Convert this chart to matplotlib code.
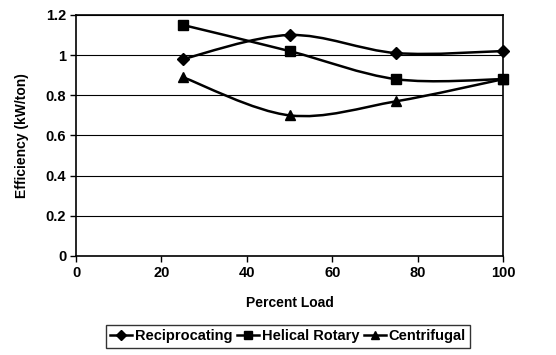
import matplotlib
matplotlib.use("Agg")
import matplotlib.pyplot as plt
from matplotlib.path import Path
from matplotlib.patches import PathPatch
from matplotlib.lines import Line2D
import numpy as np

plt.rcParams['font.family'] = ['Liberation Sans', 'DejaVu Sans']

load = [25, 50, 75, 100]
reciprocating = [0.98, 1.10, 1.01, 1.02]
helical_rotary = [1.15, 1.02, 0.88, 0.88]
centrifugal = [0.89, 0.70, 0.77, 0.88]

series = [
    ("Reciprocating", reciprocating, "D", 6),
    ("Helical Rotary", helical_rotary, "s", 7),
    ("Centrifugal", centrifugal, "^", 7),
]

fig = plt.figure(figsize=(5.56, 3.55), dpi=100)
ax = fig.add_axes([0.1367, 0.279, 0.768, 0.679])
ax.set_xlim(0, 100)
ax.set_ylim(0, 1.2)
ax.set_xticks(range(0, 101, 20))
ax.set_yticks([0, 0.2, 0.4, 0.6, 0.8, 1.0, 1.2])
ax.set_yticklabels(["0", "0.2", "0.4", "0.6", "0.8", "1", "1.2"])
for lab in ax.get_xticklabels() + ax.get_yticklabels():
    lab.set_fontweight("bold")
    lab.set_fontsize(10.5)
ax.tick_params(direction="out", length=4, width=1, color="black", pad=3)
ax.grid(axis="y", color="black", linewidth=0.8)
ax.set_axisbelow(True)
for s in ax.spines.values():
    s.set_linewidth(1.2)
    s.set_color("black")

def smooth_path(xs, ys):
    pts = np.column_stack([xs, ys]).astype(float)
    n = len(pts)
    verts = [pts[0]]
    codes = [Path.MOVETO]
    for i in range(n - 1):
        p0 = pts[i - 1] if i > 0 else pts[i]
        p1 = pts[i]
        p2 = pts[i + 1]
        p3 = pts[i + 2] if i + 2 < n else pts[i + 1]
        c1 = p1 + (p2 - p0) / 6.0
        c2 = p2 - (p3 - p1) / 6.0
        verts += [c1, c2, p2]
        codes += [Path.CURVE4] * 3
    return Path(verts, codes)

handles = []
for name, vals, mk, ms in series:
    patch = PathPatch(smooth_path(load, vals), facecolor="none", edgecolor="black", linewidth=1.8, zorder=3)
    ax.add_patch(patch)
    ax.plot(load, vals, linestyle="none", marker=mk, markersize=ms, color="black", zorder=4, clip_on=False)
    handles.append(Line2D([], [], color="black", linewidth=1.8, marker=mk, markersize=ms - 1, label=name))

ax.set_xlabel("Percent Load", fontsize=10, fontweight="bold", labelpad=12)
ax.set_ylabel("Efficiency (kW/ton)", fontsize=10, fontweight="bold", labelpad=12)

leg = fig.legend(handles=handles, loc="center", bbox_to_anchor=(0.518, 0.053), ncol=3,
                 frameon=True, fancybox=False, edgecolor="black",
                 handlelength=1.5, handletextpad=0.2, columnspacing=0.3, borderpad=0.3,
                 borderaxespad=0.0, prop={"weight": "bold", "size": 10.5})
leg.get_frame().set_linewidth(1.0)

fig.savefig("out.png", dpi=100)
